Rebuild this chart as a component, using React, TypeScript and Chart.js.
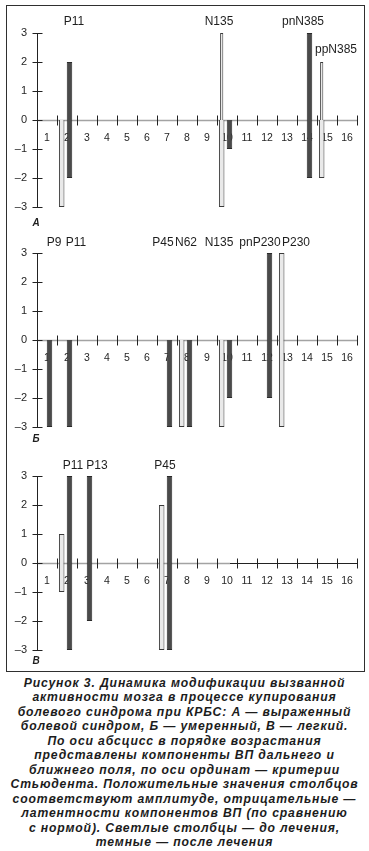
import React, { useEffect, useRef } from "react";
import { Chart, registerables } from "chart.js";

Chart.register(...registerables);

// ---------- data ----------
const categories = ["1", "2", "3", "4", "5", "6", "7", "8", "9", "10", "11", "12", "13", "14", "15", "16"];
const yTickValues = [-3, -2, -1, 0, 1, 2, 3];

// Panel А (выраженный болевой синдром)
const aBeforeAmp = [null, null, null, null, null, null, null, null, null, 3, null, null, null, null, 2, null];
const aBeforeLat = [null, -3, null, null, null, null, null, null, null, -3, null, null, null, null, -2, null];
const aAfterAmp = [null, 2, null, null, null, null, null, null, null, null, null, null, null, 3, null, null];
const aAfterLat = [null, -2, null, null, null, null, null, null, null, -1, null, null, null, -2, null, null];
const aLabels = ["P11", "N135", "pnN385", "ppN385"];
const aLabelCats = [2, 10, 14, 15];

// Panel Б (умеренный)
const bBeforeAmp = [null, null, null, null, null, null, null, null, null, null, null, null, 3, null, null, null];
const bBeforeLat = [null, null, null, null, null, null, null, -3, null, -3, null, null, -3, null, null, null];
const bAfterAmp = [null, null, null, null, null, null, null, null, null, null, null, 3, null, null, null, null];
const bAfterLat = [-3, -3, null, null, null, null, -3, -3, null, -2, null, -2, null, null, null, null];
const bLabels = ["P9", "P11", "P45", "N62", "N135", "pnP230", "P230"];
const bLabelCats = [1, 2, 7, 8, 10, 12, 13];

// Panel В (легкий)
const cBeforeAmp = [null, 1, null, null, null, null, 2, null, null, null, null, null, null, null, null, null];
const cBeforeLat = [null, -1, null, null, null, null, -3, null, null, null, null, null, null, null, null, null];
const cAfterAmp = [null, 3, 3, null, null, null, 3, null, null, null, null, null, null, null, null, null];
const cAfterLat = [null, -3, -2, null, null, null, -3, null, null, null, null, null, null, null, null, null];
const cLabels = ["P11", "P13", "P45"];
const cLabelCats = [2, 3, 7];

const captionLines = [
  "Рисунок 3. Динамика модификации вызванной",
  "активности мозга в процессе купирования",
  "болевого синдрома при КРБС: А — выраженный",
  "болевой синдром, Б — умеренный, В — легкий.",
  "По оси абсцисс в порядке возрастания",
  "представлены компоненты ВП дальнего и",
  "ближнего поля, по оси ординат — критерии",
  "Стьюдента. Положительные значения столбцов",
  "соответствуют амплитуде, отрицательные —",
  "латентности компонентов ВП (по сравнению",
  "с нормой). Светлые столбцы — до лечения,",
  "темные — после лечения",
];

// ---------- styles ----------
const FONT = "'Liberation Sans', Arial, sans-serif";
const LIGHT_FILL = "#e9e9e9";
const LIGHT_BORDER = "#3a3a3a";
const DARK_FILL = "#4a4a4a";
const DARK_BORDER = "#2a2a2a";

type PanelCfg = {
  letter: string;
  top: number;
  height: number;
  plotTop: number;
  plotBottom: number;
  beforeAmp: (number | null)[];
  beforeLat: (number | null)[];
  afterAmp: (number | null)[];
  afterLat: (number | null)[];
  labels: string[];
  labelCats: number[];
  labelDx: number[];
  labelRow: number[];
  labelDy: number;
  letterDy: number;
  narrowAmp: boolean;
  darkAxisFrom: number | null;
};

const panels: PanelCfg[] = [
  {
    letter: "А", top: 0, height: 228, plotTop: 33, plotBottom: 207,
    beforeAmp: aBeforeAmp, beforeLat: aBeforeLat, afterAmp: aAfterAmp, afterLat: aAfterLat,
    labels: aLabels, labelCats: aLabelCats, labelDx: [7, -8, -4, 9], labelRow: [0, 0, 0, 1],
    labelDy: -11, letterDy: 16, narrowAmp: true, darkAxisFrom: null,
  },
  {
    letter: "Б", top: 228, height: 218, plotTop: 25, plotBottom: 199,
    beforeAmp: bBeforeAmp, beforeLat: bBeforeLat, afterAmp: bAfterAmp, afterLat: bAfterLat,
    labels: bLabels, labelCats: bLabelCats, labelDx: [7, 9, -4, -1, -8, -7, 9], labelRow: [0, 0, 0, 0, 0, 0, 0],
    labelDy: -10, letterDy: 12.5, narrowAmp: false, darkAxisFrom: null,
  },
  {
    letter: "В", top: 446, height: 222, plotTop: 30, plotBottom: 204,
    beforeAmp: cBeforeAmp, beforeLat: cBeforeLat, afterAmp: cAfterAmp, afterLat: cAfterLat,
    labels: cLabels, labelCats: cLabelCats, labelDx: [6, 10, -2], labelRow: [0, 0, 0],
    labelDy: -10, letterDy: 11, narrowAmp: false, darkAxisFrom: 10,
  },
];

function Panel({ cfg }: { cfg: PanelCfg }) {
  const ref = useRef<HTMLCanvasElement | null>(null);

  useEffect(() => {
    const canvas = ref.current;
    if (!canvas) return;

    const axesPlugin = {
      id: "crossAxes",
      beforeDatasetsDraw(chart: any) {
        const { ctx, chartArea } = chart;
        const x = chart.scales.x;
        const y = chart.scales.y;
        const line = (x1: number, y1: number, x2: number, y2: number) => {
          ctx.beginPath();
          ctx.moveTo(x1, y1);
          ctx.lineTo(x2, y2);
          ctx.stroke();
        };
        ctx.save();
        const y0 = Math.round(y.getPixelForValue(0)) + 0.5;
        const left = chartArea.left;
        const right = chartArea.right;
        // x axis line (grey)
        ctx.strokeStyle = "#a3a3a3";
        ctx.lineWidth = 1.6;
        let grayEnd = right;
        const n = categories.length;
        if (cfg.darkAxisFrom !== null) {
          grayEnd = x.getPixelForValue(cfg.darkAxisFrom - 1) + 3;
        }
        line(left, y0, grayEnd, y0);
        if (grayEnd < right) {
          ctx.strokeStyle = "#222";
          ctx.lineWidth = 1;
          line(grayEnd, y0, right, y0);
        }
        // x tick marks at category boundaries
        ctx.strokeStyle = "#222";
        ctx.lineWidth = 1;
        for (let i = 1; i <= n; i++) {
          const px = i === n ? right : (x.getPixelForValue(i - 1) + x.getPixelForValue(i)) / 2;
          const rx = Math.round(px) + 0.5;
          line(rx, y0 - 5, rx, y0 + 5);
        }
        // y axis
        const ax = Math.round(left) + 0.5;
        line(ax, y.getPixelForValue(3), ax, y.getPixelForValue(-3));
        yTickValues.forEach((v) => {
          const py = Math.round(y.getPixelForValue(v)) + 0.5;
          line(ax - 5, py, ax + 5, py);
        });
        ctx.restore();
      },
      afterDatasetsDraw(chart: any) {
        const { ctx, chartArea } = chart;
        const x = chart.scales.x;
        ctx.save();
        ctx.fillStyle = "#1e1e1e";
        ctx.textAlign = "center";
        ctx.textBaseline = "middle";
        ctx.font = `12px ${FONT}`;
        cfg.labels.forEach((t, i) => {
          const px = x.getPixelForValue(cfg.labelCats[i] - 1) + cfg.labelDx[i];
          const py = chartArea.top + cfg.labelDy + cfg.labelRow[i] * 28;
          ctx.fillText(t, px, py);
        });
        ctx.font = `bold italic 10px ${FONT}`;
        ctx.fillText(cfg.letter, chartArea.left - 1, chartArea.bottom + cfg.letterDy);
        ctx.restore();
      },
    };

    const lightCommon = {
      backgroundColor: LIGHT_FILL,
      borderColor: LIGHT_BORDER,
      borderWidth: 1,
      stack: "before",
      categoryPercentage: 1.06,
      barPercentage: 0.52,
    };
    const darkCommon = {
      backgroundColor: DARK_FILL,
      borderColor: DARK_BORDER,
      borderWidth: 1,
      stack: "after",
      categoryPercentage: 0.5,
      barPercentage: 1.1,
    };

    const chart = new Chart(canvas, {
      type: "bar",
      data: {
        labels: categories,
        datasets: [
          { ...lightCommon, label: "до лечения (амплитуда)", data: cfg.beforeAmp, barPercentage: cfg.narrowAmp ? 0.3 : 0.52 },
          { ...lightCommon, label: "до лечения (латентность)", data: cfg.beforeLat },
          { ...darkCommon, label: "после лечения (амплитуда)", data: cfg.afterAmp },
          { ...darkCommon, label: "после лечения (латентность)", data: cfg.afterLat },
        ] as any,
      },
      options: {
        animation: false,
        responsive: false,
        maintainAspectRatio: false,
        layout: {
          padding: { left: 0, right: 12, top: cfg.plotTop, bottom: cfg.height - cfg.plotBottom },
        },
        plugins: { legend: { display: false }, tooltip: { enabled: false } },
        scales: {
          x: {
            type: "category",
            position: { y: 0 } as any,
            offset: true,
            grid: { display: false, drawTicks: false },
            border: { display: false },
            ticks: {
              autoSkip: false,
              maxRotation: 0,
              minRotation: 0,
              padding: 12,
              color: "#262626",
              font: { family: FONT, size: 10.5 },
            },
            afterFit: (s: any) => {
              s.height = 0;
            },
          },
          y: {
            min: -3,
            max: 3,
            stacked: true,
            grid: { display: false, drawTicks: false },
            border: { display: false },
            ticks: {
              stepSize: 1,
              padding: 10,
              color: "#262626",
              font: { family: FONT, size: 11 },
              callback: (v: any) => (Number(v) < 0 ? "–" + Math.abs(Number(v)) : String(v)),
            },
            afterFit: (s: any) => {
              s.width = 37;
            },
          },
        },
      } as any,
      plugins: [axesPlugin],
    });

    return () => chart.destroy();
  }, [cfg]);

  return (
    <canvas
      ref={ref}
      width={369}
      height={cfg.height}
      style={{ position: "absolute", left: 0, top: cfg.top, width: 369, height: cfg.height }}
    />
  );
}

export default function App() {
  return (
    <div style={{ position: "absolute", left: 0, top: 0, width: 369, height: 851, background: "#fff", overflow: "hidden" }}>
      <div
        style={{
          position: "absolute",
          left: 6,
          top: 5,
          width: 357,
          height: 665,
          border: "1px solid #2f2f2f",
        }}
      />
      {panels.map((p) => (
        <Panel key={p.letter} cfg={p} />
      ))}
      <div
        style={{
          position: "absolute",
          left: 0,
          top: 676,
          width: 369,
          textAlign: "center",
          fontFamily: FONT,
          fontWeight: "bold",
          fontStyle: "italic",
          fontSize: 12.2,
          letterSpacing: "0.85px",
          lineHeight: "14.45px",
          color: "#1c1c1c",
        }}
      >
        {captionLines.map((l, i) => (
          <div key={i} style={{ whiteSpace: "nowrap" }}>
            {l}
          </div>
        ))}
      </div>
    </div>
  );
}
